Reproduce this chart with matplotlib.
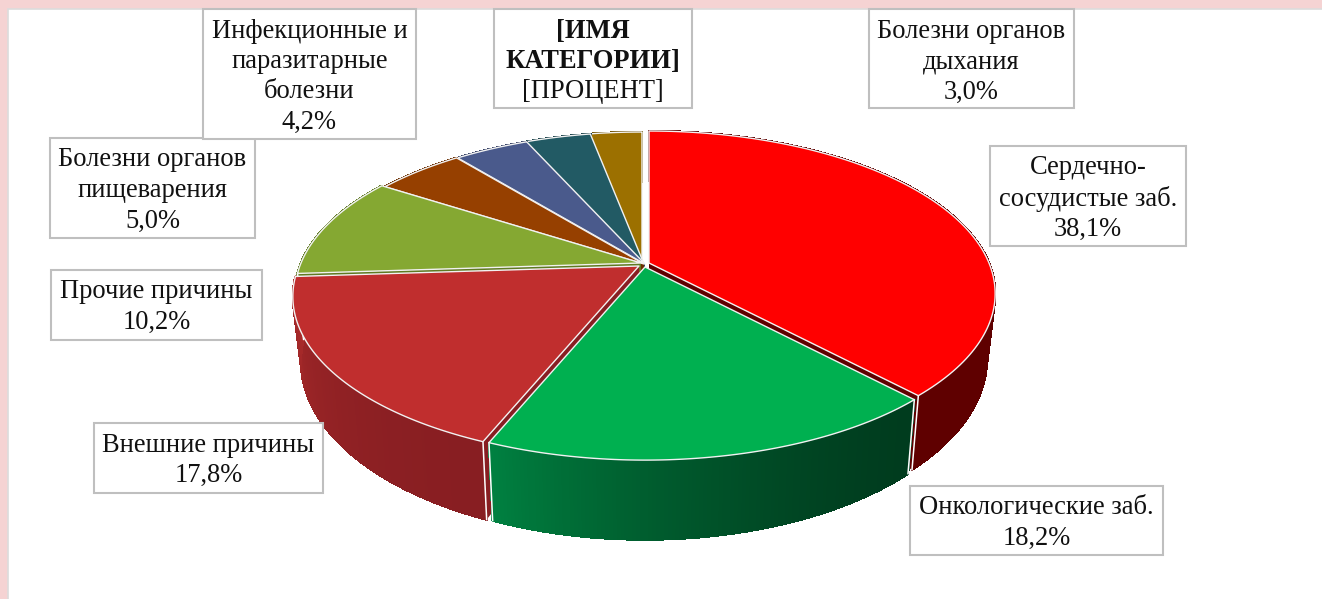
import numpy as np
import matplotlib.pyplot as plt
from matplotlib.collections import PolyCollection
from matplotlib.patches import Rectangle

plt.rcParams['font.family'] = ['Liberation Serif', 'DejaVu Serif']

# данные, по часовой стрелке от верхней точки
categories = ['Сердечно-\nсосудистые заб.', 'Онкологические заб.', 'Внешние причины',
              'Прочие причины', 'Болезни органов\nпищеварения',
              'Инфекционные и\nпаразитарные\nболезни', '[ИМЯ\nКАТЕГОРИИ]',
              'Болезни органов\nдыхания']
values = [38.1, 18.2, 17.8, 10.2, 5.0, 4.2, 3.7, 3.0]

top_colors = ['#FF0000', '#00B050', '#C02E2E', '#85A832', '#964000', '#4A5A8C', '#225A64', '#9C7000']
# цвет стенки: начало и конец по ходу сектора
wall_colors = [('#5F0000', '#5F0000'), ('#003C1E', '#008040'), ('#881E22', '#A82A2A'),
               ('#5F7A22', '#5F7A22'), ('#6A2D00', '#6A2D00'), ('#354065', '#354065'),
               ('#183F47', '#183F47'), ('#6E4F00', '#6E4F00')]
# сдвиг секторов (взрыв), пиксели
offsets = [(9, -2), (5, 2), (-1, 1), (1, -2), (4, -1), (5, -1), (4, -1), (2, -1)]
# рамка подписи: x0, y0, x1, y1
boxes = [(990, 146, 1186, 246), (910, 486, 1163, 555), (94, 423, 323, 493),
         (51, 270, 262, 340), (50, 138, 255, 238), (203, 9, 416, 139),
         (494, 9, 692, 108), (869, 9, 1074, 108)]

# параметры перспективы
K = 0.188
CX, CY = 640, 265
A_TOP, S_TOP = 340, 156.8
A_BOT, S_BOT, Y_BOT = 332, 171, 327


def project(ang, a, s, y0, off):
    # ang в радианах от верха по часовой
    x = np.sin(ang)
    y = np.cos(ang)
    w = 1 + K * y
    return CX + off[0] + a * x / w, y0 + off[1] - s * y / w


def top_pt(ang, off):
    return project(ang, A_TOP, S_TOP, CY, off)


def bot_pt(ang, off):
    return project(ang, A_BOT, S_BOT, Y_BOT, off)


def mix(c1, c2, t):
    r1 = np.array(plt.matplotlib.colors.to_rgb(c1))
    r2 = np.array(plt.matplotlib.colors.to_rgb(c2))
    return tuple(r1 + (r2 - r1) * t)


fig = plt.figure(figsize=(13.22, 5.99), dpi=100, facecolor='#F5D3D3')
ax = fig.add_axes([0, 0, 1, 1])
ax.set_xlim(0, 1322)
ax.set_ylim(599, 0)
ax.axis('off')

ax.add_patch(Rectangle((8, 9), 1330, 600, fc='white', ec='#DCDCDC', lw=1.2, zorder=0))

edges = np.cumsum([0] + values) / sum(values) * 2 * np.pi

# порядок рисования: дальние сектора, красный, тёмно-красный, зелёный
order = [7, 6, 5, 4, 3, 0, 2, 1]
z = 2
for i in order:
    a0, a1 = edges[i], edges[i + 1]
    off = offsets[i]
    angs = np.linspace(a0, a1, 120)
    # радиальные грани
    apex_t = (CX + off[0], CY + off[1])
    apex_b = (CX + off[0], Y_BOT + off[1])
    for a in (a0, a1):
        ax.fill([apex_t[0], top_pt(a, off)[0], bot_pt(a, off)[0], apex_b[0]],
                [apex_t[1], top_pt(a, off)[1], bot_pt(a, off)[1], apex_b[1]],
                color=wall_colors[i][0], lw=0, zorder=z)
    # внешняя стенка полосками
    quads = []
    cols = []
    for j in range(len(angs) - 1):
        p0, p1 = top_pt(angs[j], off), top_pt(angs[j + 1], off)
        q1, q0 = bot_pt(angs[j + 1], off), bot_pt(angs[j], off)
        quads.append([p0, p1, q1, q0])
        cols.append(mix(wall_colors[i][0], wall_colors[i][1], (j / (len(angs) - 2)) ** 1.7))
    ax.add_collection(PolyCollection(quads, facecolors=cols, edgecolors=cols, linewidths=1.0,
                                     antialiaseds=False, zorder=z + 0.1))
    # белые рёбра стенки, только на передней части
    for a in (a0, a1):
        if np.cos(a) < 0:
            ax.plot([top_pt(a, off)[0], bot_pt(a, off)[0]], [top_pt(a, off)[1], bot_pt(a, off)[1]],
                    color='white', lw=1.1, zorder=z + 0.2)
    # верхняя грань
    xs, ys = top_pt(angs, off)
    ax.fill(np.r_[apex_t[0], xs], np.r_[apex_t[1], ys], facecolor=top_colors[i],
            edgecolor='#F2F2F2', lw=1.0, zorder=z + 0.3, joinstyle='round')
    z += 1

# подписи
fs = 19.1
step = 30.5
for i, (name, val, box) in enumerate(zip(categories, values, boxes)):
    x0, y0, x1, y1 = box
    ax.add_patch(Rectangle((x0, y0), x1 - x0, y1 - y0, fc='white', ec='#BFBFBF', lw=1.5, zorder=20))
    lines = name.split('\n')
    bold = name.startswith('[')
    pct = '[ПРОЦЕНТ]' if bold else ('%.1f%%' % val).replace('.', ',')
    xc = (x0 + x1) / 2
    yc = y0 + 22
    for ln in lines:
        ax.text(xc, yc, ln, ha='center', va='center', fontsize=fs, color='#111111',
                fontweight='bold' if bold else 'normal', zorder=21)
        yc += step
    ax.text(xc, yc, pct, ha='center', va='center', fontsize=fs, color='#111111', zorder=21)

fig.savefig('out.png', dpi=100, facecolor=fig.get_facecolor())
